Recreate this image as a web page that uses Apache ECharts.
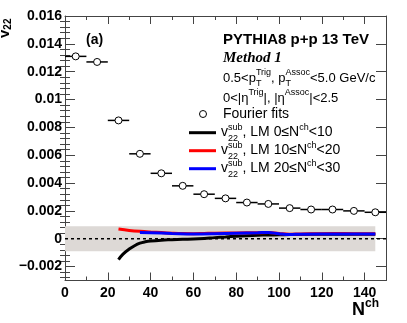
<!DOCTYPE html>
<html><head><meta charset="utf-8">
<script src="https://cdn.jsdelivr.net/npm/echarts@6/dist/echarts.min.js"></script>
<style>html,body{margin:0;padding:0;background:#fff}#c{width:407px;height:323px}</style>
</head><body><div id="c"></div>
<script>
// ---- data ----
const nchBins = [5,15,25,35,45,55,65,75,85,95,105,115,125,135,145];
const fourierV22 = [0.0131,0.0127,0.0085,0.0061,0.0047,0.0038,0.0032,0.0029,0.0026,0.0025,0.0022,0.0021,0.0021,0.0020,0.0019];
const binHalfWidth = 5;

const lm0N = [25,27,30,32.5,35,37.5,40,45,50,55,60,65,70,75,80,85,90,95,100,105,110,120,130,140,145];
const lm0V = [-0.00150,-0.00112,-0.00074,-0.00050,-0.00032,-0.00022,-0.00016,-0.00010,-0.00007,-0.00004,-0.00002,0.00002,0.00008,0.00013,0.00018,0.00022,0.00025,0.00027,0.00028,0.00030,0.00031,0.00032,0.00033,0.00033,0.00033];

const lm10N = [25,30,35,40,45,50,55,60,65,70,80,90,95,100,105,110,120,130,140,145];
const lm10V = [0.00070,0.00060,0.00053,0.00048,0.00044,0.00040,0.00037,0.00036,0.00038,0.00040,0.00042,0.00043,0.00044,0.00038,0.00033,0.00034,0.00036,0.00037,0.00036,0.00036];

const lm20N = [35,40,50,60,70,80,90,95,100,105,110,120,130,140,145];
const lm20V = [0.00044,0.00043,0.00038,0.00034,0.00036,0.00040,0.00043,0.00045,0.00036,0.00030,0.00033,0.00034,0.00034,0.00034,0.00034];

const bandHalf = 0.0009;
const bandRange = [0, 145];

const xTickInterval = 20;
const yMajorTicks = [-0.002,0,0.002,0.004,0.006,0.008,0.010,0.012,0.014,0.016];
const yMinorTicks = [];
for (let i = -7; i <= 40; i++) { if (i % 5 !== 0) yMinorTicks.push(+(i*0.0004).toFixed(5)); }

// ---- text helpers ----
const mctx = document.createElement('canvas').getContext('2d');
function fontStr(p){ return (p.italic?'italic ':'')+(p.bold?'bold ':'')+p.size+'px '+(p.family||'"Liberation Sans", Arial, sans-serif'); }
function tw(t, f){ mctx.font = f; return mctx.measureText(t).width; }
function richLine(x, base, pieces){
  const out = []; let cx = x; let pending = 0;
  for (const p of pieces){
    const f = fontStr(p);
    const w = tw(p.t, f);
    out.push({type:'text', x: cx, y: base + (p.dy||0) - 0.35*p.size, z: 100,
      style:{text:p.t, font:f, fill:p.color||'#000', verticalAlign:'middle', align:'left'}});
    if (p.stack){ pending = Math.max(pending, w); }
    else { cx += Math.max(w, pending); pending = 0; }
  }
  return out;
}
const S = 13, SS = 9;
const txt = (t,o)=>Object.assign({t, size:S}, o||{});
const sub = (t,o)=>Object.assign({t, size:SS, dy:4}, o||{});
const sup = (t,o)=>Object.assign({t, size:SS, dy:-7}, o||{});

const graphics = [];
graphics.push(...richLine(223, 45, [txt('PYTHIA8 p+p 13 TeV',{bold:true,size:15})]));
graphics.push(...richLine(223, 63, [txt('Method 1',{bold:true,italic:true,size:15,family:'"Liberation Serif", "Times New Roman", serif'})]));
graphics.push(...richLine(223, 83, [txt('0.5<p'), sub('T',{stack:true}), sup('Trig'), txt(', p'), sub('T',{stack:true}), sup('Assoc'), txt('<5.0 GeV/c')]));
graphics.push(...richLine(223, 103, [txt('0<|η'), sup('Trig'), txt('|, |η'), sup('Assoc'), txt('|<2.5')]));
graphics.push(...richLine(223, 119, [txt('Fourier fits',{size:14})]));
graphics.push({type:'circle', shape:{cx:203, cy:114, r:3.5}, style:{fill:'#fff', stroke:'#000', lineWidth:1}, z:100});
const legendRows = [['0','10','#000',132.7],['10','20','#ff0000',150.7],['20','30','#0000ff',168.7]];
for (const [a,b,c,y] of legendRows){
  graphics.push({type:'line', shape:{x1:189,y1:y,x2:216,y2:y}, style:{stroke:c, lineWidth:3}, z:100});
  graphics.push(...richLine(221, y+4.5, [txt('v',{size:14}), sub('22',{stack:true}), sup('sub'), txt(', LM '+a+'≤N',{size:14}), sup('ch'), txt('<'+b,{size:14})]));
}
graphics.push(...richLine(86, 45, [txt('(a)',{bold:true,size:14})]));
graphics.push(...richLine(352, 316, [txt('N',{bold:true,size:18}), sup('ch',{bold:true,size:12,dy:-8})]));
// y title rotated
graphics.push({type:'group', x:10, y:38, rotation:Math.PI/2, z:100,
  children: richLine(0, 0, [txt('v',{bold:true,size:15}), sub('22',{bold:true,size:10,dy:2})])});

const axisGray = '#444';
const yFmt = v => { const r = +(+v).toFixed(4); return r < 0 ? '\u2212' + String(-r) : String(r); };

const chart = echarts.init(document.getElementById('c'), null, {renderer:'canvas'});
chart.setOption({
  animation:false,
  backgroundColor:'#fff',
  grid:{left:65, right:21, top:16, bottom:42.5, containLabel:false},
  xAxis:[
    {type:'value', min:0, max:150, interval:xTickInterval, position:'bottom',
     axisLine:{show:true, onZero:false, lineStyle:{color:axisGray, width:1}},
     axisTick:{show:true, inside:true, length:8, lineStyle:{color:axisGray}},
     minorTick:{show:true, splitNumber:2, length:4, lineStyle:{color:axisGray}},
     axisLabel:{show:true, margin:6, color:'#000', fontWeight:'bold', fontSize:14, fontFamily:'"Liberation Sans", Arial, sans-serif', showMaxLabel:false},
     splitLine:{show:false}},
    {type:'value', min:0, max:150, interval:xTickInterval, position:'top',
     axisLine:{show:true, onZero:false, lineStyle:{color:axisGray, width:1}},
     axisTick:{show:true, inside:true, length:8, lineStyle:{color:axisGray}},
     minorTick:{show:true, splitNumber:2, length:4, lineStyle:{color:axisGray}},
     axisLabel:{show:false}, splitLine:{show:false}}
  ],
  yAxis:[
    {type:'value', min:-0.003, max:0.016, position:'left',
     axisLine:{show:true, onZero:false, lineStyle:{color:axisGray, width:1}},
     axisTick:{show:true, inside:true, length:10, customValues:yMajorTicks, lineStyle:{color:axisGray}},
     axisLabel:{show:true, customValues:yMajorTicks, margin:3, formatter:yFmt, color:'#000', fontWeight:'bold', fontSize:14, fontFamily:'"Liberation Sans", Arial, sans-serif'},
     splitLine:{show:false}},
    {type:'value', min:-0.003, max:0.016, position:'left',
     axisLine:{show:false},
     axisTick:{show:true, inside:true, length:5, customValues:yMinorTicks, lineStyle:{color:axisGray}},
     axisLabel:{show:false}, splitLine:{show:false}},
    {type:'value', min:-0.003, max:0.016, position:'right',
     axisLine:{show:true, onZero:false, lineStyle:{color:axisGray, width:1}},
     axisTick:{show:true, inside:true, length:10, customValues:yMajorTicks, lineStyle:{color:axisGray}},
     axisLabel:{show:false}, splitLine:{show:false}},
    {type:'value', min:-0.003, max:0.016, position:'right',
     axisLine:{show:false},
     axisTick:{show:true, inside:true, length:5, customValues:yMinorTicks, lineStyle:{color:axisGray}},
     axisLabel:{show:false}, splitLine:{show:false}}
  ],
  graphic: graphics,
  series:[
    {type:'custom', z:1, silent:true, data:[[bandRange[0], bandRange[1], -bandHalf, bandHalf]],
     encode:{x:[0,1], y:[2,3]},
     renderItem:(params, api)=>{
       const p1 = api.coord([api.value(0), api.value(3)]);
       const p2 = api.coord([api.value(1), api.value(2)]);
       return {type:'rect', shape:{x:p1[0], y:p1[1], width:p2[0]-p1[0], height:p2[1]-p1[1]}, style:{fill:'#ddd9d6'}};
     }},
    {type:'custom', z:2, silent:true, data:[[0,150,0]],
     encode:{x:[0,1], y:2},
     renderItem:(params, api)=>{
       const p1 = api.coord([api.value(0), api.value(2)]);
       const p2 = api.coord([api.value(1), api.value(2)]);
       return {type:'line', shape:{x1:p1[0], y1:p1[1], x2:p2[0], y2:p2[1]}, style:{stroke:'#000', lineWidth:1.5, lineDash:[3,3]}};
     }},
    {type:'line', z:3, smooth:0.4, showSymbol:false, silent:true,
     data: lm0N.map((n,i)=>[n, lm0V[i]]), lineStyle:{color:'#000', width:3}},
    {type:'line', z:4, smooth:0.4, showSymbol:false, silent:true,
     data: lm10N.map((n,i)=>[n, lm10V[i]]), lineStyle:{color:'#ff0000', width:3}},
    {type:'line', z:5, smooth:0.4, showSymbol:false, silent:true,
     data: lm20N.map((n,i)=>[n, lm20V[i]]), lineStyle:{color:'#0000ff', width:3}},
    {type:'custom', z:6, silent:true, data: nchBins.map((n,i)=>[n, fourierV22[i]]),
     encode:{x:0, y:1},
     renderItem:(params, api)=>{
       const x = api.value(0), y = api.value(1);
       const p1 = api.coord([x - binHalfWidth, y]);
       const p2 = api.coord([x + binHalfWidth, y]);
       return {type:'line', shape:{x1:p1[0], y1:p1[1], x2:p2[0], y2:p2[1]}, style:{stroke:'#000', lineWidth:1.5}};
     }},
    {type:'scatter', z:7, silent:true, symbol:'circle', symbolSize:7,
     data: nchBins.map((n,i)=>[n, fourierV22[i]]),
     itemStyle:{color:'#fff', borderColor:'#000', borderWidth:1, opacity:1}}
  ]
});
</script></body></html>
